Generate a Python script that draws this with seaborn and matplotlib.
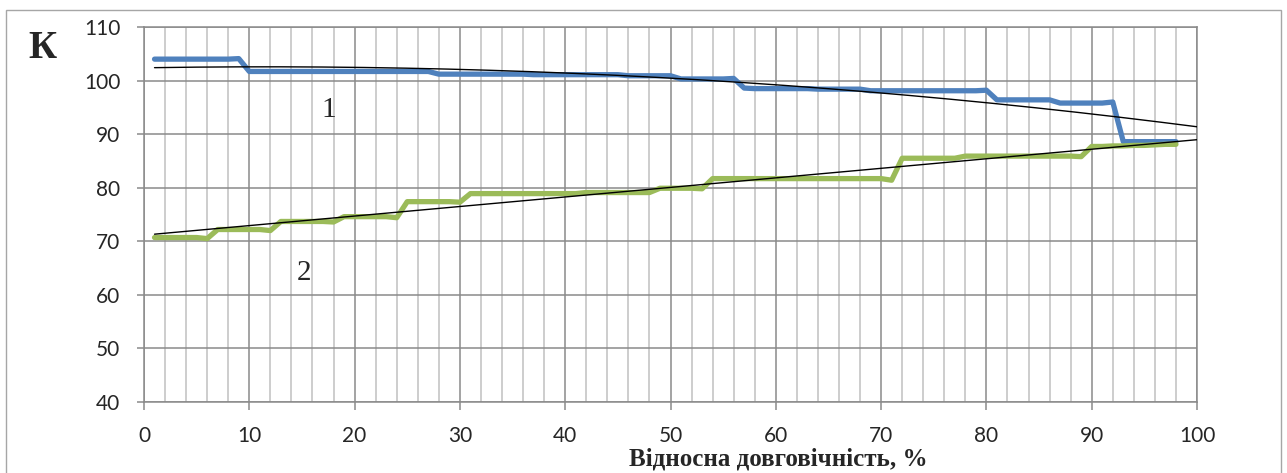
import numpy as np
import pandas as pd
import matplotlib.pyplot as plt
import seaborn as sns
from matplotlib.ticker import MultipleLocator
from matplotlib.patches import Rectangle

# дані: відносна довговічність, % (1..98)
x_vals = list(range(1, 99))

# крива 1 (синя)
k1 = [104.0, 104.0, 104.0, 104.0, 104.0, 104.0, 104.0, 104.0, 104.1,
      101.7, 101.7, 101.7, 101.7, 101.7, 101.7, 101.7, 101.7, 101.7,
      101.7, 101.7, 101.7, 101.7, 101.7, 101.7, 101.7, 101.7, 101.7,
      101.2, 101.2, 101.2, 101.2, 101.2, 101.2, 101.2, 101.2, 101.2,
      101.1, 101.1, 101.1, 101.1, 101.1, 101.1, 101.1, 101.1, 101.1,
      100.9, 100.9, 100.9, 100.9, 100.9,
      100.3, 100.3, 100.3, 100.3, 100.3, 100.4,
      98.6, 98.5, 98.5, 98.5, 98.5, 98.5, 98.5, 98.4, 98.4, 98.4, 98.4, 98.4,
      98.1, 98.1, 98.1, 98.1, 98.1, 98.1, 98.1, 98.1, 98.1, 98.1, 98.1, 98.2,
      96.4, 96.4, 96.4, 96.4, 96.4, 96.4,
      95.8, 95.8, 95.8, 95.8, 95.8, 96.0,
      88.6, 88.6, 88.6, 88.6, 88.6, 88.6]

# крива 2 (зелена)
k2 = [70.7, 70.7, 70.7, 70.7, 70.7, 70.5,
      72.2, 72.2, 72.2, 72.2, 72.2, 72.0,
      73.7, 73.7, 73.7, 73.7, 73.7, 73.6,
      74.6, 74.6, 74.6, 74.6, 74.6, 74.4,
      77.4, 77.4, 77.4, 77.4, 77.4, 77.3,
      78.9, 78.9, 78.9, 78.9, 78.9, 78.9, 78.9, 78.9, 78.9, 78.9, 78.9,
      79.1, 79.1, 79.1, 79.1, 79.1, 79.1, 79.1,
      79.9, 79.9, 79.9, 79.9, 79.8,
      81.7, 81.7, 81.7, 81.7, 81.7, 81.7, 81.7, 81.7, 81.7,
      81.7, 81.7, 81.7, 81.7, 81.7, 81.7, 81.7, 81.7, 81.4,
      85.5, 85.5, 85.5, 85.5, 85.5, 85.5,
      85.9, 85.9, 85.9, 85.9, 85.9, 85.9, 85.9, 85.9, 85.9, 85.9, 85.9, 85.8,
      87.7, 87.7, 87.8, 87.8, 87.9, 87.9, 88.0, 88.1, 88.1]

x_ticks = list(range(0, 101, 10))
y_ticks = list(range(40, 111, 10))

df = pd.DataFrame({'x': x_vals, 'k1': k1, 'k2': k2})

sns.set_style('white')
plt.rcParams['font.family'] = ['Lato', 'DejaVu Sans']

fig = plt.figure(figsize=(12.87, 4.73), dpi=100)
ax = fig.add_axes([144 / 1287, 1 - 402 / 473, (1197 - 144) / 1287, (402 - 27) / 473])

# товсті лінії даних
sns.lineplot(data=df, x='x', y='k1', ax=ax, color='#4f81bd', linewidth=3.8,
             solid_capstyle='round', solid_joinstyle='round', zorder=3)
sns.lineplot(data=df, x='x', y='k2', ax=ax, color='#9bbb59', linewidth=3.8,
             solid_capstyle='round', solid_joinstyle='round', zorder=3)

# лінії тренду (поліном 2-го ступеня та лінійний)
xt = np.linspace(1, 100, 200)
c1 = np.polyfit(df['x'], df['k1'], 2)
c2 = np.polyfit(df['x'], df['k2'], 1)
ax.plot(xt, np.polyval(c1, xt), color='black', linewidth=1.0, zorder=4)
ax.plot(xt, np.polyval(c2, xt), color='black', linewidth=1.0, zorder=4)

ax.set_xlim(0, 100)
ax.set_ylim(40, 110)
ax.set_xticks(x_ticks)
ax.set_yticks(y_ticks)
ax.xaxis.set_minor_locator(MultipleLocator(2))
ax.set_xlabel('')
ax.set_ylabel('')

ax.grid(which='major', axis='both', color='#8a8a8a', linewidth=1.1)
ax.grid(which='minor', axis='x', color='#c0c0c0', linewidth=1.1)
ax.set_axisbelow(True)
for s in ax.spines.values():
    s.set_color('#8a8a8a')
    s.set_linewidth(1.1)

ax.tick_params(axis='x', which='major', direction='out', length=5.5, width=1.1,
               color='#8a8a8a', pad=12, labelsize=15, bottom=True)
ax.tick_params(axis='x', which='minor', length=0)
ax.tick_params(axis='y', direction='out', length=5, width=1.1,
               color='#8a8a8a', pad=12, labelsize=15, left=True)

# підписи кривих
ax.text(17.5, 93.2, '1', fontsize=21, family='Liberation Serif', ha='center', va='baseline')
ax.text(15.2, 62.8, '2', fontsize=21, family='Liberation Serif', ha='center', va='baseline')

fig.text(42 / 1287, 1 - 58 / 473, 'К', fontsize=28, fontweight='bold',
         family='Liberation Serif', ha='center', va='baseline')
fig.text(0.605, 1 - 447 / 473, 'Відносна довговічність, %', fontsize=18,
         fontweight='bold', family='Liberation Serif', ha='center', va='top')

# рамка навколо діаграми
fig.patches.append(Rectangle((6 / 1287, -0.1), (1281 - 6) / 1287, 1.1 - 10.5 / 473,
                             transform=fig.transFigure, fill=False,
                             edgecolor='#a6a6a6', linewidth=1.0))

fig.savefig('out.png', dpi=100)
